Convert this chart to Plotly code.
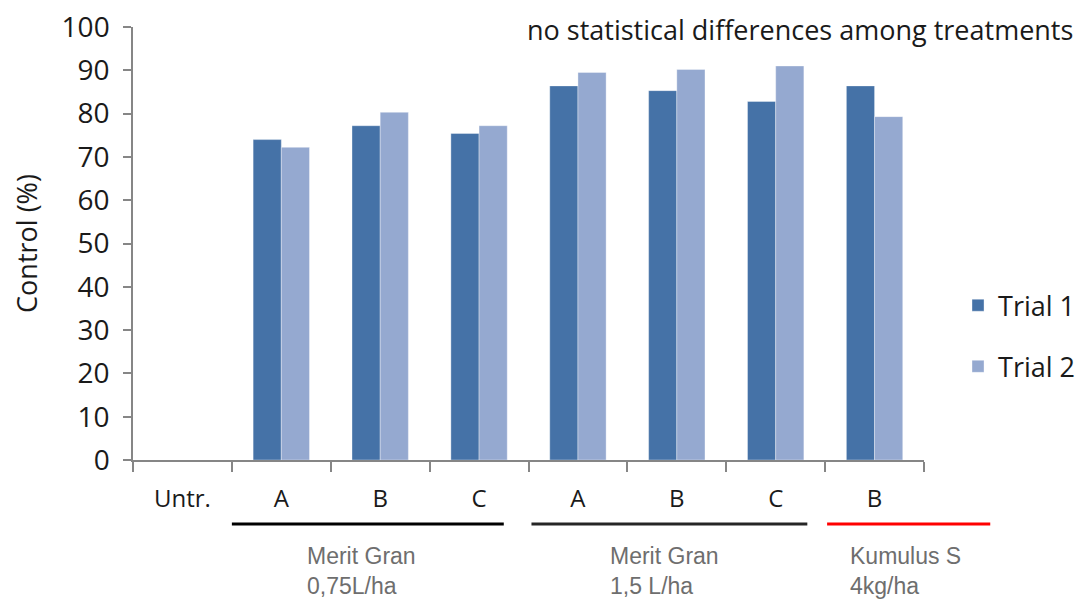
import plotly.graph_objects as go

categories = ["Untr.", "A", "B", "C", "A", "B", "C", "B"]
trial1 = [0, 74.0, 77.2, 75.4, 86.4, 85.3, 82.8, 86.4]
trial2 = [0, 72.2, 80.3, 77.2, 89.5, 90.2, 91.0, 79.3]
series_names = ["Trial 1", "Trial 2"]
colors = ["#4572A7", "#95A9D0"]

groups = [
    {"label": "Merit Gran<br>0,75L/ha", "start": 0.5, "end": 3.25, "label_at": 1.24, "color": "#000000"},
    {"label": "Merit Gran<br>1,5 L/ha", "start": 3.53, "end": 6.32, "label_at": 4.30, "color": "#262626"},
    {"label": "Kumulus S<br>4kg/ha", "start": 6.52, "end": 8.17, "label_at": 6.73, "color": "#FF0000"},
]
yticks = [0, 10, 20, 30, 40, 50, 60, 70, 80, 90, 100]

xpos = list(range(len(categories)))
XMIN, XMAX = -0.5, len(categories) - 0.5

def to_paper(v):
    return (v - XMIN) / (XMAX - XMIN)

fig = go.Figure()
for i, (name, vals) in enumerate(zip(series_names, [trial1, trial2])):
    fig.add_trace(go.Bar(
        x=xpos, y=vals, name=name, legendgroup=name,
        marker=dict(color=colors[i], line=dict(color="rgba(255,255,255,0.35)", width=1)),
    ))

shapes = []
annotations = []
for g in groups:
    shapes.append(dict(type="line", xref="paper", yref="paper",
                       x0=to_paper(g["start"]), x1=to_paper(g["end"]),
                       y0=-0.148, y1=-0.148,
                       line=dict(color=g["color"], width=3)))
    annotations.append(dict(xref="paper", yref="paper",
                            x=to_paper(g["label_at"]), y=-0.2575,
                            xanchor="left", yanchor="middle", align="left",
                            text=g["label"], showarrow=False,
                            font=dict(family="Liberation Sans", size=23, color="#6E6E6E")))

annotations.append(dict(xref="paper", yref="paper", x=1.191, y=0.994,
                        xanchor="right", yanchor="middle",
                        text="no statistical differences among treatments",
                        showarrow=False,
                        font=dict(family="Open Sans", size=27, color="#1A1A1A")))

fig.update_layout(
    width=1082, height=593,
    margin=dict(l=125, r=166, t=19, b=141, autoexpand=False),
    plot_bgcolor="white", paper_bgcolor="white",
    barmode="group", bargap=0.43, bargroupgap=0,
    font=dict(family="Open Sans", color="#1A1A1A"),
    showlegend=True,
    legend=dict(x=1.043, y=0.413, xanchor="left", yanchor="top",
                font=dict(size=27, family="Open Sans", color="#1A1A1A"),
                tracegroupgap=23, traceorder="grouped"),
    xaxis=dict(range=[XMIN, XMAX], tickvals=xpos, ticktext=categories,
               showgrid=False, zeroline=False, showline=True,
               linecolor="#868686", linewidth=1.5,
               ticks="", ticklabelstandoff=16,
               tickfont=dict(family="Open Sans", size=24, color="#1A1A1A"),
               minor=dict(tick0=-0.5, dtick=1, ticks="outside", ticklen=10,
                          tickcolor="#868686", tickwidth=1.5, showgrid=False)),
    yaxis=dict(range=[0, 100], tickvals=yticks, showgrid=False, zeroline=False,
               showline=True, linecolor="#868686", linewidth=1.5,
               ticks="outside", ticklen=8, tickcolor="#868686", tickwidth=1.5,
               ticklabeloverflow="allow", ticklabelstandoff=8,
               tickfont=dict(size=28, family="Open Sans", color="#1A1A1A"),
               title=dict(text="Control (%)", standoff=18,
                          font=dict(size=27, family="Open Sans", color="#1A1A1A"))),
    shapes=shapes, annotations=annotations,
)

fig.write_html("out.html")
